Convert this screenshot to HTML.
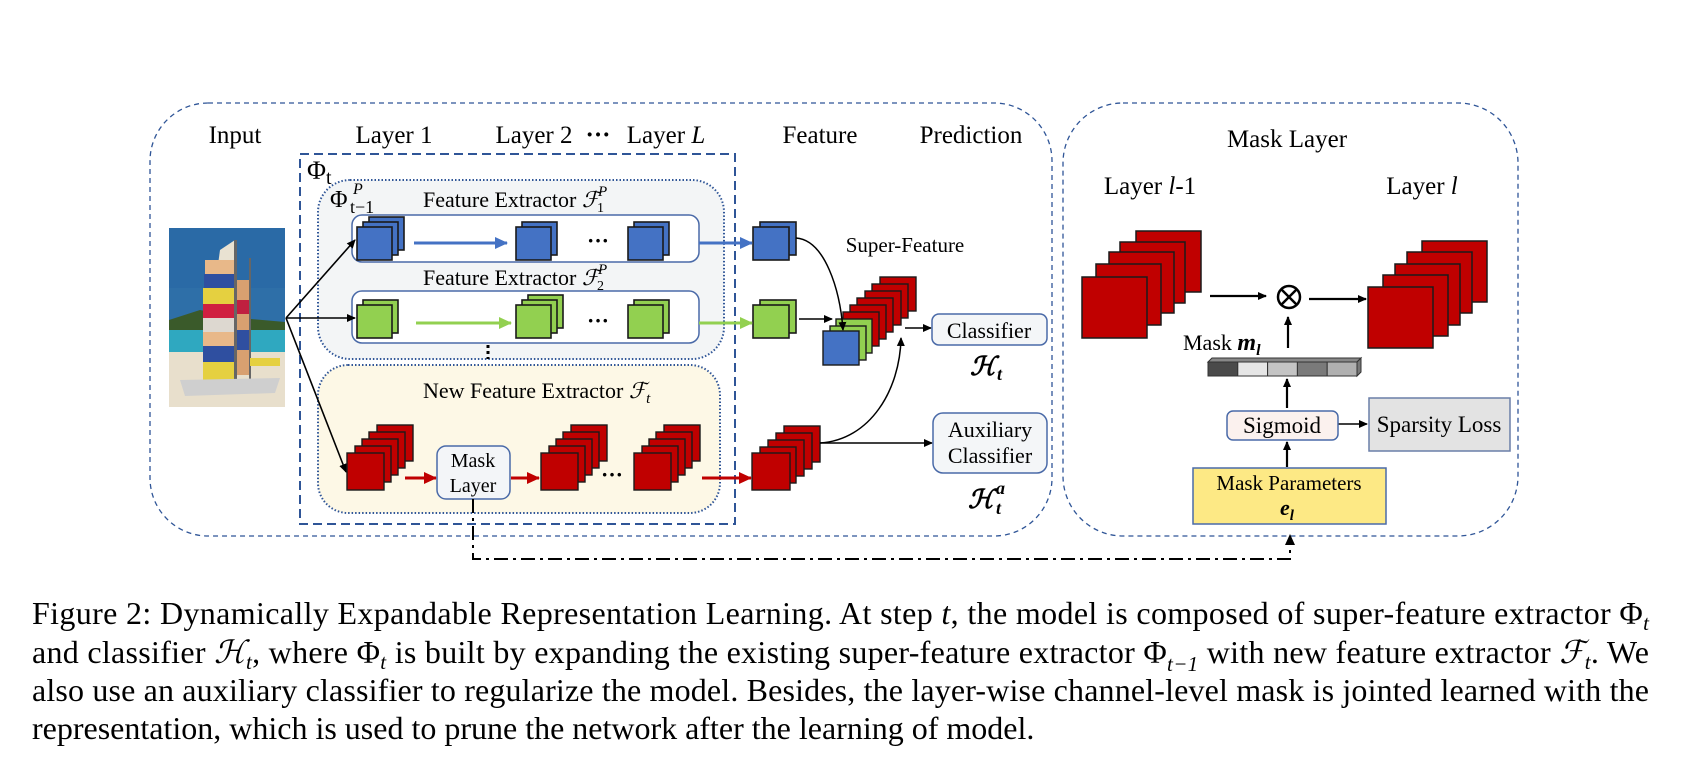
<!DOCTYPE html>
<html><head><meta charset="utf-8"><style>
html,body{margin:0;padding:0;background:#fff;}
svg{display:block;}
text{font-family:"Liberation Serif",serif;fill:#000;}
</style></head><body>
<svg width="1687" height="772" viewBox="0 0 1687 772" xmlns="http://www.w3.org/2000/svg">
<defs>
<marker id="ab" markerWidth="10" markerHeight="10" refX="8" refY="5" orient="auto" markerUnits="userSpaceOnUse"><path d="M0,1 L9,5 L0,9 z" fill="#000"/></marker>
<marker id="abl" markerWidth="14" markerHeight="14" refX="12" refY="7" orient="auto" markerUnits="userSpaceOnUse"><path d="M0,1 L13,7 L0,13 z" fill="#4472c4"/></marker>
<marker id="agr" markerWidth="14" markerHeight="14" refX="12" refY="7" orient="auto" markerUnits="userSpaceOnUse"><path d="M0,1 L13,7 L0,13 z" fill="#92d050"/></marker>
<marker id="ard" markerWidth="14" markerHeight="14" refX="12" refY="7" orient="auto" markerUnits="userSpaceOnUse"><path d="M0,1 L13,7 L0,13 z" fill="#c00000"/></marker>
</defs>

<rect x="150" y="103" width="902" height="433" rx="58" fill="none" stroke="#2f5597" stroke-width="1.3" stroke-dasharray="5,4"/>
<rect x="1063" y="103" width="455" height="433" rx="60" fill="none" stroke="#2f5597" stroke-width="1.3" stroke-dasharray="5,4"/>

<g font-size="25">
<text x="235" y="143" text-anchor="middle">Input</text>
<text x="394" y="143" text-anchor="middle">Layer 1</text>
<text x="534" y="143" text-anchor="middle">Layer 2</text>
<text x="598" y="143" text-anchor="middle" font-weight="bold">···</text>
<text x="666" y="143" text-anchor="middle">Layer <tspan font-style="italic">L</tspan></text>
<text x="820" y="143" text-anchor="middle">Feature</text>
<text x="971" y="143" text-anchor="middle">Prediction</text>
<text x="1287" y="147" text-anchor="middle">Mask Layer</text>
<text x="1150" y="194" text-anchor="middle">Layer <tspan font-style="italic">l</tspan>-1</text>
<text x="1422" y="194" text-anchor="middle">Layer <tspan font-style="italic">l</tspan></text>
</g>

<rect x="300" y="154" width="435" height="370" fill="none" stroke="#2f5597" stroke-width="2" stroke-dasharray="9,5"/>
<text x="307" y="179" font-size="26" font-family="DejaVu Serif">Φ<tspan font-size="20" dy="5">t</tspan></text>

<rect x="318" y="180" width="406" height="179" rx="32" fill="#f3f5f6" stroke="#2f5597" stroke-width="2" stroke-dasharray="1.5,2"/>
<text x="330" y="207" font-size="24" font-family="DejaVu Serif">Φ</text>
<text x="350" y="213" font-size="18" font-family="DejaVu Sans">t−1</text>
<text x="353" y="194" font-size="16" font-style="italic">P</text>
<text x="423" y="207" font-size="22">Feature Extractor <tspan font-style="italic" font-family="DejaVu Serif">ℱ</tspan></text>
<text x="597" y="212" font-size="14">1</text><text x="598" y="196" font-size="15" font-style="italic">P</text>
<text x="423" y="285" font-size="22">Feature Extractor <tspan font-style="italic" font-family="DejaVu Serif">ℱ</tspan></text>
<text x="597" y="290" font-size="14">2</text><text x="598" y="274" font-size="15" font-style="italic">P</text>
<rect x="352" y="215" width="347" height="47" rx="10" fill="#fff" stroke="#4a6aa8" stroke-width="1.5"/>
<rect x="352" y="291" width="347" height="52" rx="10" fill="#fff" stroke="#4a6aa8" stroke-width="1.5"/>
<line x1="488" y1="345" x2="488" y2="359" stroke="#000" stroke-width="3" stroke-dasharray="3,3"/>

<rect x="318" y="365" width="402" height="148" rx="30" fill="#fdf8e6" stroke="#2f5597" stroke-width="2" stroke-dasharray="1.5,2"/>
<text x="423" y="398" font-size="22">New Feature Extractor <tspan font-style="italic" font-family="DejaVu Serif">ℱ</tspan><tspan font-size="15" font-style="italic" dy="5">t</tspan></text>

<g>
<rect x="169" y="228" width="116" height="179" fill="#2e6fa8"/>
<rect x="169" y="228" width="116" height="60" fill="#2a6aa6"/>
<path d="M169,320 L200,310 L240,318 L285,322 L285,330 L169,335z" fill="#3a5a2a"/>
<rect x="169" y="330" width="116" height="22" fill="#2fa8c0"/>
<rect x="169" y="352" width="116" height="55" fill="#e8dfcc"/>
<path d="M220,250 L235,240 L236,360 L205,360 z" fill="#e9e2d2"/>
<rect x="205" y="260" width="31" height="14" fill="#e8b889"/>
<rect x="204" y="274" width="32" height="14" fill="#2f4fa0"/>
<rect x="203" y="288" width="33" height="16" fill="#e5d040"/>
<rect x="203" y="304" width="33" height="14" fill="#d02040"/>
<rect x="203" y="318" width="33" height="14" fill="#ddd8d0"/>
<rect x="203" y="332" width="33" height="14" fill="#e8b889"/>
<rect x="203" y="346" width="33" height="16" fill="#2f4fa0"/>
<rect x="203" y="362" width="33" height="18" fill="#e5d040"/>
<rect x="236" y="280" width="14" height="95" fill="#d8a070"/>
<rect x="236" y="300" width="14" height="14" fill="#c02040"/>
<rect x="236" y="330" width="14" height="20" fill="#2f4fa0"/>
<rect x="234" y="240" width="3" height="150" fill="#666"/>
<rect x="249" y="258" width="2" height="130" fill="#666"/>
<path d="M180,380 L280,378 L275,393 L185,396 z" fill="#cfcfcf"/>
<rect x="250" y="358" width="30" height="8" fill="#e5d040"/>
</g>

<g stroke="#000" stroke-width="1.6" fill="none" marker-end="url(#ab)">
<line x1="286" y1="318" x2="355" y2="240"/>
<line x1="286" y1="318" x2="355" y2="318"/>
<line x1="286" y1="318" x2="346" y2="472"/>
</g>

<g stroke="#1a1a1a" stroke-width="1.6" fill="#4472c4">
<rect x="369" y="217" width="35" height="33"/><rect x="363" y="222" width="35" height="33"/><rect x="357" y="227" width="35" height="33"/>
<rect x="522" y="222" width="35" height="33"/><rect x="516" y="227" width="35" height="33"/>
<rect x="634" y="222" width="35" height="33"/><rect x="628" y="227" width="35" height="33"/>
<rect x="760" y="222" width="36" height="33"/><rect x="753" y="227" width="36" height="33"/>
</g>
<line x1="414" y1="243" x2="507" y2="243" stroke="#4472c4" stroke-width="3" marker-end="url(#abl)"/>
<line x1="699" y1="243" x2="752" y2="243" stroke="#4472c4" stroke-width="3" marker-end="url(#abl)"/>
<text x="598" y="248" font-size="22" text-anchor="middle" font-weight="bold">···</text>

<g stroke="#1a1a1a" stroke-width="1.6" fill="#92d050">
<rect x="363" y="300" width="35" height="33"/><rect x="357" y="305" width="35" height="33"/>
<rect x="528" y="295" width="35" height="33"/><rect x="522" y="300" width="35" height="33"/><rect x="516" y="305" width="35" height="33"/>
<rect x="634" y="300" width="35" height="33"/><rect x="628" y="305" width="35" height="33"/>
<rect x="760" y="300" width="36" height="33"/><rect x="753" y="305" width="36" height="33"/>
</g>
<line x1="416" y1="323" x2="511" y2="323" stroke="#92d050" stroke-width="3" marker-end="url(#agr)"/>
<line x1="699" y1="323" x2="752" y2="323" stroke="#92d050" stroke-width="3" marker-end="url(#agr)"/>
<text x="598" y="328" font-size="22" text-anchor="middle" font-weight="bold">···</text>

<g stroke="#1a1a1a" stroke-width="1.4" fill="#c00000">
<rect x="377" y="425" width="36" height="36"/><rect x="369" y="432" width="36" height="36"/><rect x="362" y="439" width="36" height="36"/><rect x="355" y="446" width="36" height="36"/><rect x="347" y="453" width="37" height="37"/>
<rect x="571" y="425" width="36" height="36"/><rect x="563" y="432" width="36" height="36"/><rect x="556" y="439" width="36" height="36"/><rect x="549" y="446" width="36" height="36"/><rect x="541" y="453" width="37" height="37"/>
<rect x="664" y="425" width="36" height="36"/><rect x="656" y="432" width="36" height="36"/><rect x="649" y="439" width="36" height="36"/><rect x="642" y="446" width="36" height="36"/><rect x="634" y="453" width="37" height="37"/>
<rect x="784" y="426" width="36" height="36"/><rect x="776" y="433" width="36" height="36"/><rect x="768" y="440" width="36" height="36"/><rect x="760" y="447" width="36" height="36"/><rect x="752" y="453" width="38" height="37"/>
</g>
<line x1="405" y1="478" x2="436" y2="478" stroke="#c00000" stroke-width="3" marker-end="url(#ard)"/>
<line x1="511" y1="478" x2="539" y2="478" stroke="#c00000" stroke-width="3" marker-end="url(#ard)"/>
<line x1="702" y1="478" x2="751" y2="478" stroke="#c00000" stroke-width="3" marker-end="url(#ard)"/>
<text x="612" y="482" font-size="22" text-anchor="middle" font-weight="bold">···</text>
<rect x="437" y="446" width="73" height="53" rx="9" fill="#f3f5f8" stroke="#4a6aa8" stroke-width="1.5"/>
<text x="473" y="467" font-size="20" text-anchor="middle">Mask</text>
<text x="473" y="492" font-size="20" text-anchor="middle">Layer</text>

<text x="905" y="252" font-size="21" text-anchor="middle">Super-Feature</text>
<g stroke="#1a1a1a" stroke-width="1.4">
<rect x="880" y="277" width="36" height="34" fill="#c00000"/>
<rect x="872" y="284" width="36" height="34" fill="#c00000"/>
<rect x="865" y="291" width="36" height="34" fill="#c00000"/>
<rect x="857" y="298" width="36" height="34" fill="#c00000"/>
<rect x="850" y="305" width="36" height="34" fill="#c00000"/>
<rect x="843" y="312" width="36" height="34" fill="#c00000"/>
<rect x="836" y="319" width="36" height="34" fill="#92d050"/>
<rect x="830" y="326" width="36" height="34" fill="#92d050"/>
<rect x="823" y="331" width="36" height="34" fill="#4472c4"/>
</g>
<g stroke="#000" stroke-width="1.5" fill="none" marker-end="url(#ab)">
<path d="M796,238 C825,240 840,290 843,330"/>
<line x1="799" y1="319" x2="832" y2="319"/>
<path d="M820,443 C870,440 900,390 901,338"/>
<line x1="905" y1="328" x2="931" y2="328"/>
<line x1="820" y1="443" x2="932" y2="443"/>
</g>

<rect x="932" y="314" width="115" height="31" rx="7" fill="#f4f6f8" stroke="#4a6aa8" stroke-width="1.5"/>
<text x="989" y="338" font-size="22" text-anchor="middle">Classifier</text>
<text x="970" y="375" font-size="26" font-weight="bold" font-style="italic" font-family="DejaVu Serif">ℋ</text>
<text x="997" y="380" font-size="18" font-weight="bold" font-style="italic" font-family="DejaVu Serif">t</text>
<rect x="933" y="413" width="114" height="60" rx="10" fill="#f4f6f8" stroke="#4a6aa8" stroke-width="1.5"/>
<text x="990" y="437" font-size="22" text-anchor="middle">Auxiliary</text>
<text x="990" y="463" font-size="22" text-anchor="middle">Classifier</text>
<text x="968" y="508" font-size="26" font-weight="bold" font-style="italic" font-family="DejaVu Serif">ℋ</text>
<text x="996" y="514" font-size="18" font-weight="bold" font-style="italic" font-family="DejaVu Serif">t</text>
<text x="996" y="494" font-size="18" font-weight="bold" font-style="italic" font-family="DejaVu Serif">a</text>

<polyline points="473,499 473,559 1290,559 1290,541" fill="none" stroke="#000" stroke-width="2" stroke-dasharray="14,5,3,5"/>
<path d="M1285,545 L1290,534 L1295,545 z" fill="#000"/>

<g stroke="#1a1a1a" stroke-width="1.5" fill="#c00000">
<rect x="1136" y="231" width="65" height="61"/><rect x="1120" y="242" width="65" height="61"/><rect x="1109" y="252" width="65" height="61"/><rect x="1096" y="264" width="65" height="61"/><rect x="1082" y="277" width="65" height="61"/>
<rect x="1422" y="241" width="65" height="61"/><rect x="1407" y="252" width="65" height="61"/><rect x="1395" y="264" width="65" height="61"/><rect x="1383" y="275" width="65" height="61"/><rect x="1368" y="287" width="65" height="61"/>
</g>
<g stroke="#000" stroke-width="2.2" fill="none" marker-end="url(#ab)">
<line x1="1210" y1="296" x2="1266" y2="296"/>
<line x1="1309" y1="299" x2="1366" y2="299"/>
<line x1="1288" y1="348" x2="1288" y2="317"/>
<line x1="1287" y1="408" x2="1287" y2="379"/>
<line x1="1287" y1="467" x2="1287" y2="442"/>
<line x1="1338" y1="424" x2="1367" y2="424" stroke-width="1.6"/>
</g>
<circle cx="1289" cy="297" r="11" fill="#fff" stroke="#000" stroke-width="2.5"/>
<line x1="1281" y1="289" x2="1297" y2="305" stroke="#000" stroke-width="2.5"/>
<line x1="1297" y1="289" x2="1281" y2="305" stroke="#000" stroke-width="2.5"/>
<text x="1183" y="350" font-size="22">Mask <tspan font-weight="bold" font-style="italic" font-size="24">m</tspan><tspan font-weight="bold" font-style="italic" font-size="16" dy="5">l</tspan></text>
<g stroke="#333" stroke-width="1">
<path d="M1208,362 L1212,358 L1361,358 L1357,362 z" fill="#888"/>
<path d="M1357,362 L1361,358 L1361,372 L1357,376 z" fill="#777"/>
<rect x="1208" y="362" width="29.8" height="14" fill="#4a4a4a"/>
<rect x="1237.8" y="362" width="29.8" height="14" fill="#e6e6e6"/>
<rect x="1267.6" y="362" width="29.8" height="14" fill="#c4c4c4"/>
<rect x="1297.4" y="362" width="29.8" height="14" fill="#7a7a7a"/>
<rect x="1327.2" y="362" width="29.8" height="14" fill="#b0b0b0"/>
</g>
<rect x="1227" y="411" width="111" height="29" rx="6" fill="#fbf1ee" stroke="#4a6aa8" stroke-width="1.5"/>
<text x="1282" y="433" font-size="23" text-anchor="middle">Sigmoid</text>
<rect x="1369" y="398" width="141" height="53" fill="#e3e3e3" stroke="#6a7fa8" stroke-width="1.5"/>
<text x="1439" y="432" font-size="23" text-anchor="middle">Sparsity Loss</text>
<rect x="1193" y="468" width="193" height="56" fill="#fde985" stroke="#4a6aa8" stroke-width="1.5"/>
<text x="1289" y="490" font-size="21" text-anchor="middle">Mask Parameters</text>
<text x="1287" y="515" font-size="22" text-anchor="middle" font-weight="bold" font-style="italic">e<tspan font-size="15" dy="5">l</tspan></text>

<g font-size="32">
<text x="32" y="624" textLength="1617" lengthAdjust="spacing">Figure 2: Dynamically Expandable Representation Learning. At step <tspan font-style="italic">t</tspan>, the model is composed of super-feature extractor Φ<tspan font-size="21" font-style="italic" dy="6">t</tspan></text>
<text x="32" y="663" textLength="1617" lengthAdjust="spacing">and classifier <tspan font-style="italic">ℋ</tspan><tspan font-size="21" font-style="italic" dy="6">t</tspan><tspan dy="-6">, where Φ</tspan><tspan font-size="21" font-style="italic" dy="6">t</tspan><tspan dy="-6"> is built by expanding the existing super-feature extractor Φ</tspan><tspan font-size="21" font-style="italic" dy="8">t−1</tspan><tspan dy="-8"> with new feature extractor </tspan><tspan font-style="italic">ℱ</tspan><tspan font-size="21" font-style="italic" dy="6">t</tspan><tspan dy="-6">. We</tspan></text>
<text x="32" y="701" textLength="1617" lengthAdjust="spacing">also use an auxiliary classifier to regularize the model. Besides, the layer-wise channel-level mask is jointed learned with the</text>
<text x="32" y="739">representation, which is used to prune the network after the learning of model.</text>
</g>
</svg>
</body></html>
